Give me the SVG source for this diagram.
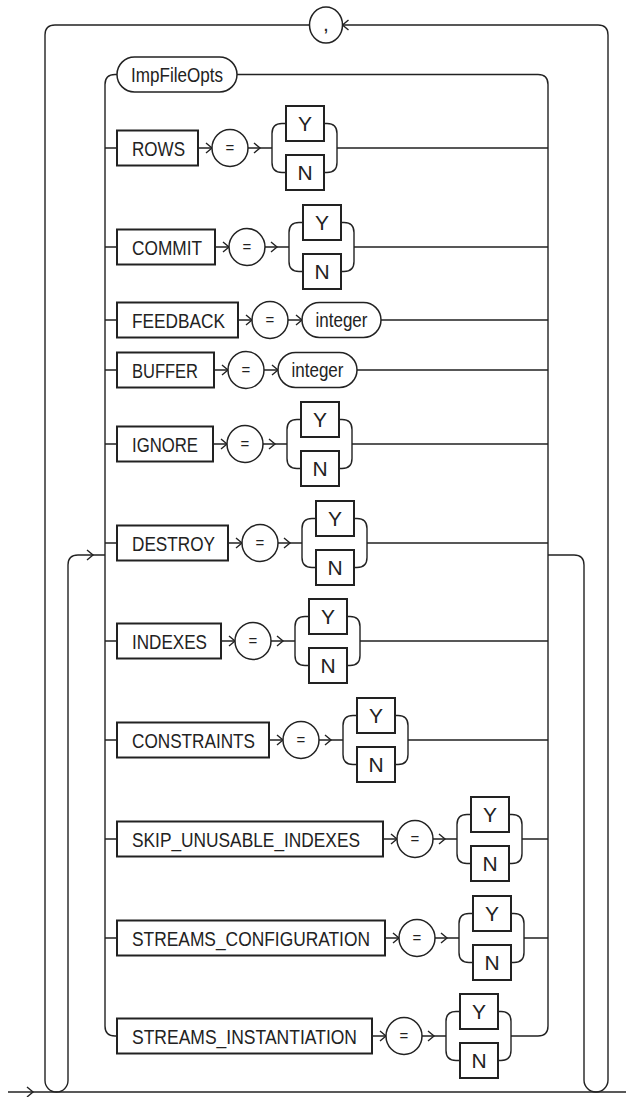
<svg xmlns="http://www.w3.org/2000/svg" xmlns:xlink="http://www.w3.org/1999/xlink" width="626" height="1097" viewBox="0 0 626 1097">
<style>
.l{fill:none;stroke:#222;stroke-width:1.4}
.b{fill:#fff;stroke:#222;stroke-width:2}
.c{fill:#fff;stroke:#222;stroke-width:1.5}
.t{font-family:"Liberation Sans",Arial,sans-serif;font-size:21px;fill:#222}
.s{font-size:20px}
.m{text-anchor:middle}
.e{font-family:"Liberation Sans",Arial,sans-serif;font-size:15px;fill:#222;text-anchor:middle}
</style>
<defs>
<path id="ar" d="M-6,-5 L0,0 L-6,5" fill="none" stroke="#222" stroke-width="1.4"/>
<path id="al" d="M6,-5 L0,0 L6,5" fill="none" stroke="#222" stroke-width="1.4"/>
</defs>
<rect width="626" height="1097" fill="#fff"/>
<g id="connectors">
<path class="l" d="M8 1092 H626"/>
<use href="#ar" x="33" y="1092"/>
<path class="l" d="M309.5 25 H55 Q45 25 45 35 V1080.5 A11.5 11.5 0 0 0 68 1080.5 V565 Q68 555 78 555 H105"/>
<use href="#ar" x="93" y="555"/>
<path class="l" d="M548 555 H574 Q584 555 584 565 V1080 A12 12 0 0 0 608 1080 V35 Q608 25 598 25 H342.5"/>
<use href="#al" x="342.5" y="25"/>
<path class="l" d="M117 74.5 H115 Q105 74.5 105 84.5 V1026 Q105 1036 115 1036 H117"/>
<path class="l" d="M237 74.5 H538 Q548 74.5 548 84.5 V1026 Q548 1036 538 1036 H511"/>
<path class="l" d="M105 148 H117 M198 148 H212 M248 148 H272 M337 148 H548"/>
<path class="l" d="M105 247 H117 M215 247 H229 M265 247 H289 M354 247 H548"/>
<path class="l" d="M105 320 H117 M238 320 H252 M288 320 H302 M381 320 H548"/>
<path class="l" d="M105 370 H117 M214 370 H228 M264 370 H278 M357 370 H548"/>
<path class="l" d="M105 444 H117 M213 444 H227 M263 444 H287 M352 444 H548"/>
<path class="l" d="M105 543 H117 M228 543 H242 M278 543 H302 M367 543 H548"/>
<path class="l" d="M105 641 H117 M221 641 H235 M271 641 H295 M360 641 H548"/>
<path class="l" d="M105 740 H117 M269 740 H283 M319 740 H343 M408 740 H548"/>
<path class="l" d="M105 839 H117 M383 839 H397 M433 839 H457 M522 839 H548"/>
<path class="l" d="M105 938 H117 M385 938 H399 M435 938 H459 M524 938 H548"/>
<path class="l" d="M372 1036 H386 M422 1036 H446"/>
<use href="#ar" x="212" y="148"/><use href="#ar" x="260" y="148"/>
<use href="#ar" x="229" y="247"/><use href="#ar" x="277" y="247"/>
<use href="#ar" x="252" y="320"/><use href="#ar" x="302" y="320"/>
<use href="#ar" x="228" y="370"/><use href="#ar" x="278" y="370"/>
<use href="#ar" x="227" y="444"/><use href="#ar" x="275" y="444"/>
<use href="#ar" x="242" y="543"/><use href="#ar" x="290" y="543"/>
<use href="#ar" x="235" y="641"/><use href="#ar" x="283" y="641"/>
<use href="#ar" x="283" y="740"/><use href="#ar" x="331" y="740"/>
<use href="#ar" x="397" y="839"/><use href="#ar" x="445" y="839"/>
<use href="#ar" x="399" y="938"/><use href="#ar" x="447" y="938"/>
<use href="#ar" x="386" y="1036"/><use href="#ar" x="434" y="1036"/>
<path class="l" d="M286 123.5 H282 Q272 123.5 272 133.5 V162.5 Q272 172.5 282 172.5 H286 M324 123.5 H327 Q337 123.5 337 133.5 V162.5 Q337 172.5 327 172.5 H324"/>
<path class="l" d="M303 222.5 H299 Q289 222.5 289 232.5 V261.5 Q289 271.5 299 271.5 H303 M341 222.5 H344 Q354 222.5 354 232.5 V261.5 Q354 271.5 344 271.5 H341"/>
<path class="l" d="M301 419.5 H297 Q287 419.5 287 429.5 V458.5 Q287 468.5 297 468.5 H301 M339 419.5 H342 Q352 419.5 352 429.5 V458.5 Q352 468.5 342 468.5 H339"/>
<path class="l" d="M316 518.5 H312 Q302 518.5 302 528.5 V557.5 Q302 567.5 312 567.5 H316 M354 518.5 H357 Q367 518.5 367 528.5 V557.5 Q367 567.5 357 567.5 H354"/>
<path class="l" d="M309 616.5 H305 Q295 616.5 295 626.5 V655.5 Q295 665.5 305 665.5 H309 M347 616.5 H350 Q360 616.5 360 626.5 V655.5 Q360 665.5 350 665.5 H347"/>
<path class="l" d="M357 715.5 H353 Q343 715.5 343 725.5 V754.5 Q343 764.5 353 764.5 H357 M395 715.5 H398 Q408 715.5 408 725.5 V754.5 Q408 764.5 398 764.5 H395"/>
<path class="l" d="M471 814.5 H467 Q457 814.5 457 824.5 V853.5 Q457 863.5 467 863.5 H471 M509 814.5 H512 Q522 814.5 522 824.5 V853.5 Q522 863.5 512 863.5 H509"/>
<path class="l" d="M473 913.5 H469 Q459 913.5 459 923.5 V952.5 Q459 962.5 469 962.5 H473 M511 913.5 H514 Q524 913.5 524 923.5 V952.5 Q524 962.5 514 962.5 H511"/>
<path class="l" d="M460 1011.5 H456 Q446 1011.5 446 1021.5 V1050.5 Q446 1060.5 456 1060.5 H460 M498 1011.5 H501 Q511 1011.5 511 1021.5 V1050.5 Q511 1060.5 501 1060.5 H498"/>
</g>
<g id="comma"><ellipse class="c" cx="326" cy="25" rx="16.5" ry="18"/><text class="t m" x="326" y="31">,</text></g>
<g id="impfileopts"><rect class="c" x="117" y="57" width="120" height="35" rx="17.5"/><text class="t m" x="177" y="82" textLength="92" lengthAdjust="spacingAndGlyphs">ImpFileOpts</text></g>
<g id="rows">
<rect class="b" x="117" y="130.5" width="81" height="35"/><text class="t" x="132" y="155.5" textLength="53" lengthAdjust="spacingAndGlyphs">ROWS</text>
<ellipse class="c" cx="230" cy="148" rx="18" ry="18.5"/><text class="e" x="230" y="153">=</text>
<rect class="b" x="286" y="106" width="38" height="35"/><text class="t m" x="305" y="131">Y</text>
<rect class="b" x="286" y="155" width="38" height="35"/><text class="t m" x="305" y="180">N</text>
</g>
<g id="commit">
<rect class="b" x="117" y="229.5" width="98" height="35"/><text class="t" x="132" y="254.5" textLength="70" lengthAdjust="spacingAndGlyphs">COMMIT</text>
<ellipse class="c" cx="247" cy="247" rx="18" ry="18.5"/><text class="e" x="247" y="252">=</text>
<rect class="b" x="303" y="205" width="38" height="35"/><text class="t m" x="322" y="230">Y</text>
<rect class="b" x="303" y="254" width="38" height="35"/><text class="t m" x="322" y="279">N</text>
</g>
<g id="feedback">
<rect class="b" x="117" y="302.5" width="121" height="35"/><text class="t" x="132" y="327.5" textLength="93" lengthAdjust="spacingAndGlyphs">FEEDBACK</text>
<ellipse class="c" cx="270" cy="320" rx="18" ry="18.5"/><text class="e" x="270" y="325">=</text>
<rect class="c" x="302" y="302.5" width="79" height="35" rx="17.5"/><text class="t m" x="341.5" y="327" textLength="52" lengthAdjust="spacingAndGlyphs">integer</text>
</g>
<g id="buffer">
<rect class="b" x="117" y="352.5" width="97" height="35"/><text class="t" x="132" y="377.5" textLength="66" lengthAdjust="spacingAndGlyphs">BUFFER</text>
<ellipse class="c" cx="246" cy="370" rx="18" ry="18.5"/><text class="e" x="246" y="375">=</text>
<rect class="c" x="278" y="352.5" width="79" height="35" rx="17.5"/><text class="t m" x="317.5" y="377" textLength="52" lengthAdjust="spacingAndGlyphs">integer</text>
</g>
<g id="ignore">
<rect class="b" x="117" y="426.5" width="96" height="35"/><text class="t" x="132" y="451.5" textLength="66" lengthAdjust="spacingAndGlyphs">IGNORE</text>
<ellipse class="c" cx="245" cy="444" rx="18" ry="18.5"/><text class="e" x="245" y="449">=</text>
<rect class="b" x="301" y="402" width="38" height="35"/><text class="t m" x="320" y="427">Y</text>
<rect class="b" x="301" y="451" width="38" height="35"/><text class="t m" x="320" y="476">N</text>
</g>
<g id="destroy">
<rect class="b" x="117" y="525.5" width="111" height="35"/><text class="t" x="132" y="550.5" textLength="83" lengthAdjust="spacingAndGlyphs">DESTROY</text>
<ellipse class="c" cx="260" cy="543" rx="18" ry="18.5"/><text class="e" x="260" y="548">=</text>
<rect class="b" x="316" y="501" width="38" height="35"/><text class="t m" x="335" y="526">Y</text>
<rect class="b" x="316" y="550" width="38" height="35"/><text class="t m" x="335" y="575">N</text>
</g>
<g id="indexes">
<rect class="b" x="117" y="623.5" width="104" height="35"/><text class="t" x="132" y="648.5" textLength="75" lengthAdjust="spacingAndGlyphs">INDEXES</text>
<ellipse class="c" cx="253" cy="641" rx="18" ry="18.5"/><text class="e" x="253" y="646">=</text>
<rect class="b" x="309" y="599" width="38" height="35"/><text class="t m" x="328" y="624">Y</text>
<rect class="b" x="309" y="648" width="38" height="35"/><text class="t m" x="328" y="673">N</text>
</g>
<g id="constraints">
<rect class="b" x="117" y="722.5" width="152" height="35"/><text class="t" x="132" y="747.5" textLength="123" lengthAdjust="spacingAndGlyphs">CONSTRAINTS</text>
<ellipse class="c" cx="301" cy="740" rx="18" ry="18.5"/><text class="e" x="301" y="745">=</text>
<rect class="b" x="357" y="698" width="38" height="35"/><text class="t m" x="376" y="723">Y</text>
<rect class="b" x="357" y="747" width="38" height="35"/><text class="t m" x="376" y="772">N</text>
</g>
<g id="skip_unusable_indexes">
<rect class="b" x="117" y="821.5" width="266" height="35"/><text class="t s" x="132" y="846.5" textLength="228" lengthAdjust="spacingAndGlyphs">SKIP_UNUSABLE_INDEXES</text>
<ellipse class="c" cx="415" cy="839" rx="18" ry="18.5"/><text class="e" x="415" y="844">=</text>
<rect class="b" x="471" y="797" width="38" height="35"/><text class="t m" x="490" y="822">Y</text>
<rect class="b" x="471" y="846" width="38" height="35"/><text class="t m" x="490" y="871">N</text>
</g>
<g id="streams_configuration">
<rect class="b" x="117" y="920.5" width="268" height="35"/><text class="t s" x="132" y="945.5" textLength="238" lengthAdjust="spacingAndGlyphs">STREAMS_CONFIGURATION</text>
<ellipse class="c" cx="417" cy="938" rx="18" ry="18.5"/><text class="e" x="417" y="943">=</text>
<rect class="b" x="473" y="896" width="38" height="35"/><text class="t m" x="492" y="921">Y</text>
<rect class="b" x="473" y="945" width="38" height="35"/><text class="t m" x="492" y="970">N</text>
</g>
<g id="streams_instantiation">
<rect class="b" x="117" y="1018.5" width="255" height="35"/><text class="t s" x="132" y="1043.5" textLength="225" lengthAdjust="spacingAndGlyphs">STREAMS_INSTANTIATION</text>
<ellipse class="c" cx="404" cy="1036" rx="18" ry="18.5"/><text class="e" x="404" y="1041">=</text>
<rect class="b" x="460" y="994" width="38" height="35"/><text class="t m" x="479" y="1019">Y</text>
<rect class="b" x="460" y="1043" width="38" height="35"/><text class="t m" x="479" y="1068">N</text>
</g>
</svg>
